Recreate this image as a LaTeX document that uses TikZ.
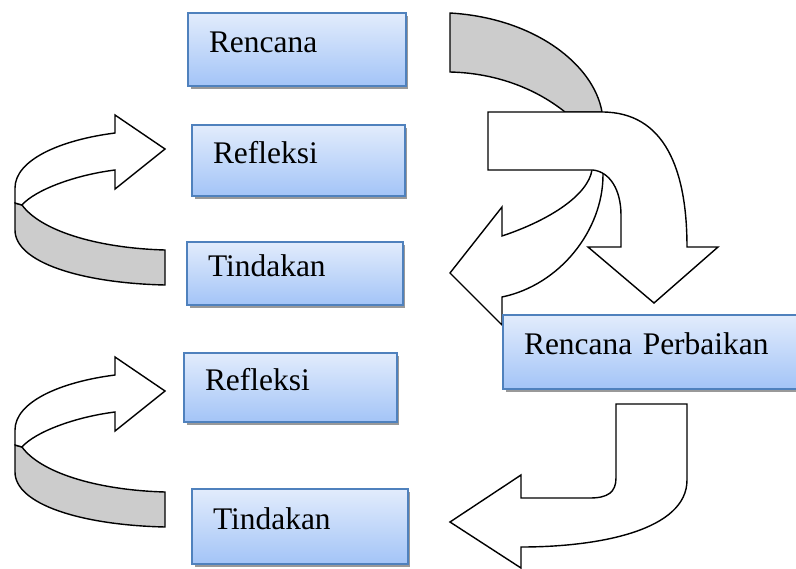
\documentclass[tikz,border=0pt]{standalone}
\usepackage{fontspec}
\setmainfont{Liberation Serif}
\usetikzlibrary{shadows}

\definecolor{boxedge}{RGB}{79,129,189}
\definecolor{boxtop}{RGB}{226,236,252}
\definecolor{boxbottom}{RGB}{163,196,247}
\definecolor{ribbon}{RGB}{204,204,204}

\tikzset{
  stage/.style={draw=boxedge, line width=0.9pt, top color=boxtop, bottom color=boxbottom,
    drop shadow={shadow xshift=0.05cm, shadow yshift=-0.06cm, fill=black!40, opacity=1},
    align=left, inner xsep=0.42cm, text height=0.62em, text depth=0.3em,
    font=\fontsize{17.9pt}{21pt}\selectfont},
  block/.style={draw=black, line width=0.8pt, fill=white},
  band/.style={block, fill=ribbon}
}

\begin{document}
\begin{tikzpicture}[x=0.02cm, y=-0.02cm]

	\clip (0,0) rectangle (796,569);

	% loop arrows on the left
	\foreach \dy in {0,242} {
	\begin{scope}[shift={(0,\dy)}]
		\draw[band] (15,203) -- (15,230) .. controls (15,262) and (80,283) .. (165,285)
			-- (165,250) .. controls (95,248) and (40,230) .. (22,205) -- cycle;
		\draw[block] (165,149) -- (115,115) -- (115,133) .. controls (60,140) and (15,160) .. (15,188)
			-- (15,203) -- (22,205) .. controls (35,190) and (75,175) .. (115,170) -- (115,189) -- cycle;
	\end{scope}
	}

	% band behind the turn
	\draw[band] (450,13) .. controls (535,18) and (594,65) .. (602,112)
		-- (565,112) .. controls (535,88) and (495,73) .. (450,72) -- cycle;

	% arrow to the left
	\draw[block] (603,150) -- (603,175) .. controls (603,230) and (560,285) .. (502,297)
		-- (502,325) -- (450,273) -- (502,207) -- (502,236)
		.. controls (550,220) and (588,195) .. (592,170) -- (592,150) -- cycle;

	% arrow down
	\draw[block] (488,112) -- (602,112) .. controls (665,112) and (687,170) .. (687,247)
		-- (718,247) -- (654,303) -- (588,247) -- (621,247) -- (621,215)
		.. controls (621,190) and (610,172) .. (593,170) -- (488,170) -- cycle;

	% boxes
	\node[stage, text width=3.52cm, minimum height=1.46cm] (rencana) at (297,49.5) {Rencana};
	\node[stage, text width=3.42cm, minimum height=1.42cm] (refleksiA) at (298.5,160.5) {Refleksi};
	\node[stage, text width=3.48cm, minimum height=1.26cm] (tindakanA) at (295,273.5) {Tindakan};
	\node[stage, text width=3.42cm, minimum height=1.38cm] (refleksiB) at (290.5,387.5) {Refleksi};
	\node[stage, text width=3.48cm, minimum height=1.50cm] (tindakanB) at (300,526.5) {Tindakan};
	\node[stage, text width=5.10cm, minimum height=1.48cm] (perbaikan) at (651.5,352) {Rencana Perbaikan};

	% arrow back to the left
	\draw[block] (616,404) -- (687,404) -- (687,480) .. controls (687,530) and (600,547) .. (521,547)
		-- (521,568) -- (450,522) -- (521,475) -- (521,498) -- (590,498)
		.. controls (608,498) and (616,492) .. (616,478) -- cycle;

\end{tikzpicture}
\end{document}
